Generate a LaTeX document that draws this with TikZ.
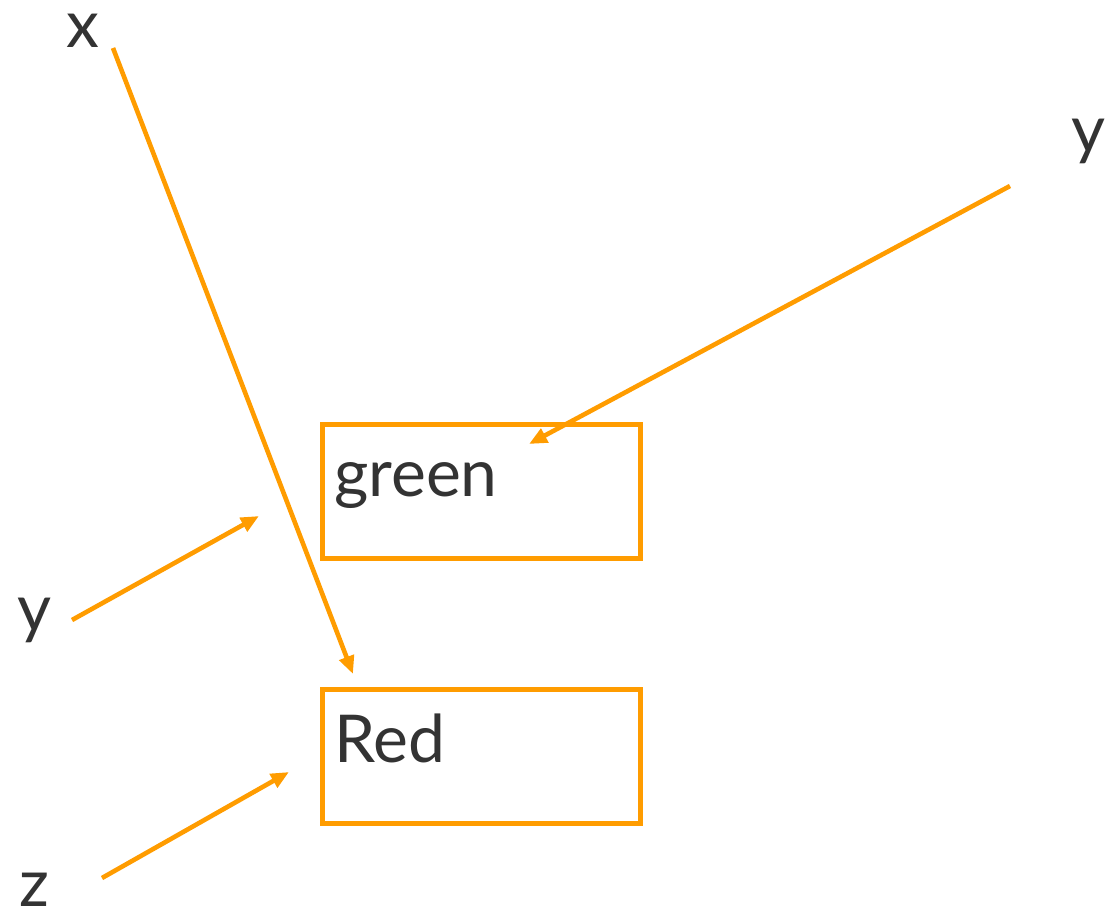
\documentclass[tikz,border=0pt]{standalone}
\usepackage{fontspec}
\setmainfont{Lato}
\usetikzlibrary{arrows.meta}
\definecolor{edgeorange}{HTML}{FF9C00}
\definecolor{inkgray}{HTML}{333333}
\tikzset{
  box/.style={draw=edgeorange, line width=5pt, rectangle, inner sep=0pt,
              anchor=north west, minimum width=318pt, minimum height=134pt},
  lbl/.style={text=inkgray, font=\fontsize{66}{78}\selectfont, inner sep=0pt, anchor=base},
  link/.style={draw=edgeorange, line width=4.6pt,
               -{Triangle[length=18pt,width=15pt]}}
}
\begin{document}
\begin{tikzpicture}[x=1pt,y=-1pt]
  \useasboundingbox (0,0) rectangle (1111,911);

  % boxes and their captions
  \node[box] (greenbox) at (320,422) {};
  \node[lbl, anchor=base west] (greentxt) at (334,496) {green};
  \node[box] (redbox) at (320,687) {};
  \node[lbl, anchor=base west] (redtxt) at (334,762) {Red};

  % free-standing letters
  \node[lbl] (lx) at (83,47) {x};
  \node[lbl] (lyr) at (1088,152) {y};
  \node[lbl] (lyl) at (35,631) {y};
  \node[lbl] (lz) at (34,906) {z};

  % connector end points
  \coordinate (xs) at (113,48);
  \coordinate (xe) at (353,674);
  \coordinate (yrs) at (1010,186);
  \coordinate (yre) at (529,444);
  \coordinate (yls) at (72,620);
  \coordinate (yle) at (259,516);
  \coordinate (zs) at (102,878);
  \coordinate (ze) at (289,772);

  % connectors
  \draw[link] (xs) -- (xe);
  \draw[link] (yrs) -- (yre);
  \draw[link] (yls) -- (yle);
  \draw[link] (zs) -- (ze);
\end{tikzpicture}
\end{document}
